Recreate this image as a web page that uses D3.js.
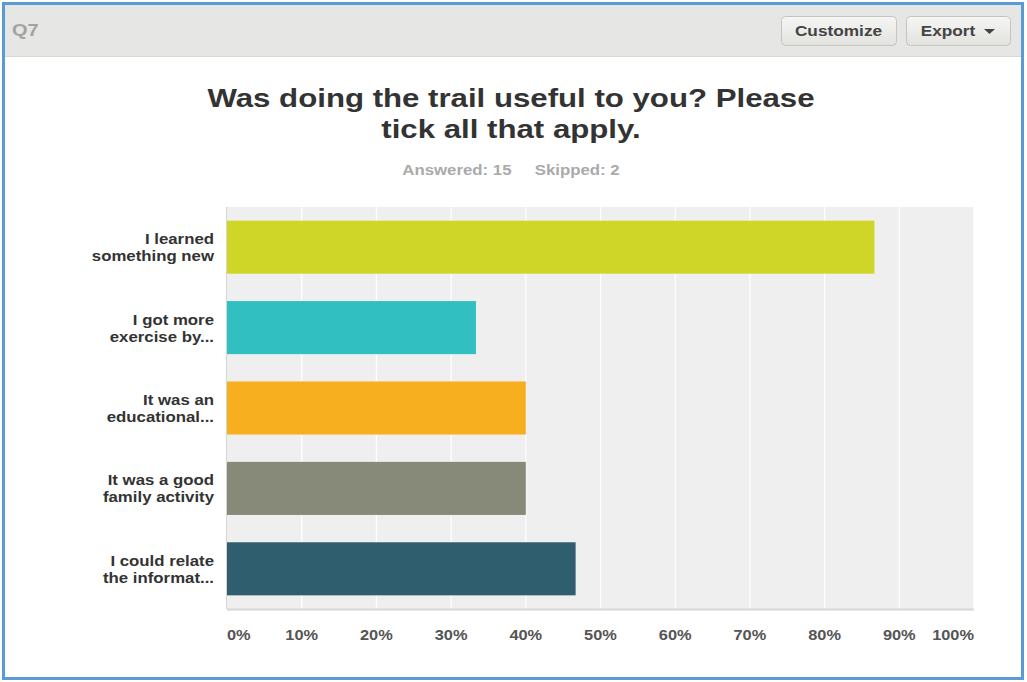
<!DOCTYPE html>
<html>
<head>
<meta charset="utf-8">
<script src="https://cdn.jsdelivr.net/npm/d3@7"></script>
<style>
  html, body { margin: 0; padding: 0; background: #fff; }
  svg { display: block; font-family: Arial, "Liberation Sans", sans-serif; }
</style>
</head>
<body>
<svg id="chart" width="1027" height="682"></svg>
<script>
// Survey responses for Q7 (percent of respondents, n = 15)
const categories = [
  ["I learned", "something new"],
  ["I got more", "exercise by..."],
  ["It was an", "educational..."],
  ["It was a good", "family activity"],
  ["I could relate", "the informat..."]
];
const values = [86.67, 33.33, 40, 40, 46.67];
const colors = ["#cfd628", "#32bfc1", "#f7ae1f", "#878a78", "#2f5f6e"];
const ticks = [0, 10, 20, 30, 40, 50, 60, 70, 80, 90, 100];
const titleLines = ["Was doing the trail useful to you? Please", "tick all that apply."];
const answered = 15, skipped = 2;

// Text in this panel is drawn slightly widened
const SX = 1.2;
const svg = d3.select("#chart");

function label(parent, x, y, str, anchor, size, color, sx = SX) {
  return parent.append("text")
    .attr("transform", `translate(${x},${y}) scale(${sx},1)`)
    .attr("text-anchor", anchor).attr("font-size", size)
    .attr("font-weight", "bold").attr("fill", color)
    .attr("xml:space", "preserve").text(str);
}

// Panel frame and header
svg.append("rect").attr("x", 3.5).attr("y", 3.5).attr("width", 1019).attr("height", 675)
  .attr("fill", "#fff").attr("stroke", "#5b9bd5").attr("stroke-width", 3);
svg.append("rect").attr("x", 5).attr("y", 5).attr("width", 1016).attr("height", 51).attr("fill", "#e6e6e5");
svg.append("line").attr("x1", 5).attr("x2", 1021).attr("y1", 56.5).attr("y2", 56.5).attr("stroke", "#d8d8d8");
label(svg, 12, 36, "Q7", "start", 16, "#a3a3a3", 1.25);

const grad = svg.append("defs").append("linearGradient").attr("id", "btn").attr("x1", 0).attr("x2", 0).attr("y1", 0).attr("y2", 1);
grad.append("stop").attr("offset", "0%").attr("stop-color", "#f6f6f4");
grad.append("stop").attr("offset", "100%").attr("stop-color", "#e2e2df");

const buttons = [
  { label: "Customize", x: 781, w: 115, arrow: false },
  { label: "Export", x: 906, w: 104, arrow: true }
];
buttons.forEach(b => {
  svg.append("rect").attr("x", b.x + 0.5).attr("y", 16.5).attr("width", b.w).attr("height", 29)
    .attr("rx", 4).attr("fill", "url(#btn)").attr("stroke", "#c4c4c0");
  label(svg, b.arrow ? b.x + 42 : b.x + b.w / 2, 36, b.label, "middle", 15, "#444", 1.15);
  if (b.arrow) {
    svg.append("path").attr("d", `M${b.x + 78},29 L${b.x + 89},29 L${b.x + 83.5},34 Z`).attr("fill", "#444");
  }
});

// Title and response counts
titleLines.forEach((t, i) => label(svg, 511, 107 + i * 31, t, "middle", 26, "#333"));
label(svg, 511, 175, `Answered: ${answered}     Skipped: ${skipped}`, "middle", 14, "#aaa");

// Plot area
const plot = { left: 227, right: 974, top: 207, bottom: 609 };
const x = d3.scaleLinear().domain([0, 100]).range([plot.left, plot.right]);
const y = d3.scaleBand().domain(d3.range(categories.length))
  .range([plot.top, plot.bottom]).paddingInner(0.34).paddingOuter(0.17);

svg.append("rect").attr("x", plot.left).attr("y", plot.top)
  .attr("width", plot.right - plot.left).attr("height", plot.bottom - plot.top).attr("fill", "#efefef");

svg.append("g").selectAll("line").data(ticks.slice(1)).join("line")
  .attr("x1", d => x(d)).attr("x2", d => x(d))
  .attr("y1", plot.top).attr("y2", plot.bottom)
  .attr("stroke", "#fff").attr("stroke-width", 1.2);

svg.append("g").selectAll("rect").data(values).join("rect")
  .attr("x", x(0)).attr("y", (d, i) => y(i))
  .attr("width", d => x(d) - x(0)).attr("height", y.bandwidth())
  .attr("fill", (d, i) => colors[i]);

svg.append("line").attr("x1", plot.left).attr("x2", plot.right)
  .attr("y1", plot.bottom + 0.5).attr("y2", plot.bottom + 0.5).attr("stroke", "#d6d6d6").attr("stroke-width", 2);
svg.append("line").attr("x1", plot.left - 0.5).attr("x2", plot.left - 0.5)
  .attr("y1", plot.top).attr("y2", plot.bottom).attr("stroke", "#d6d6d6");

// Category labels
const catG = svg.append("g");
categories.forEach((lines, i) => {
  lines.forEach((s, j) => {
    label(catG, 214, y(i) + y.bandwidth() / 2 - 3 + j * 17, s, "end", 14, "#333");
  });
});

// Percent axis labels
const tickG = svg.append("g");
ticks.forEach(d => {
  label(tickG, x(d), 640, d + "%", d === 0 ? "start" : d === 100 ? "end" : "middle", 14, "#555", 1.17);
});
</script>
</body>
</html>
